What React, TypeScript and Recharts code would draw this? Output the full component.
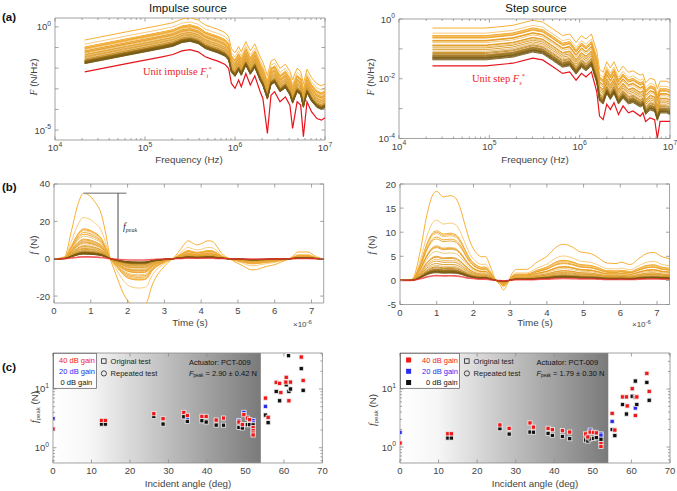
import React from "react";
import { LineChart, Line, XAxis, YAxis, ReferenceArea, ReferenceLine, ScatterChart, Scatter } from "recharts";

// ---------------- DATA ----------------
// (a) Impulse source: log10(frequency) grid, log10 spectrum of unit impulse (red) and the measured-curve shape
const impLogF = [4.33, 4.81, 5.19, 5.31, 5.41, 5.50, 5.59, 5.67, 5.74, 5.81, 5.89, 5.93, 5.96, 6.00, 6.04, 6.07, 6.12, 6.17, 6.22, 6.28, 6.31, 6.36, 6.40, 6.44, 6.50, 6.56, 6.61, 6.64, 6.69, 6.73, 6.76, 6.80, 6.85, 6.91, 6.96, 7.00];
const impRedLogA = [-2.18, -1.77, -1.45, -1.34, -1.16, -1.10, -1.21, -1.45, -1.56, -1.66, -1.82, -2.02, -2.74, -2.98, -2.58, -2.90, -2.26, -2.82, -2.37, -3.14, -3.47, -5.16, -3.31, -3.14, -3.63, -3.39, -3.79, -4.92, -3.63, -3.79, -5.32, -3.63, -4.11, -4.44, -4.52, -4.40];
const impLogA = [-2.18, -1.77, -1.45, -1.34, -1.16, -1.10, -1.21, -1.45, -1.56, -1.66, -1.82, -2.02, -2.60, -2.80, -2.50, -2.75, -2.26, -2.70, -2.37, -3.00, -3.25, -3.90, -3.20, -3.10, -3.55, -3.35, -3.70, -4.10, -3.55, -3.70, -4.30, -3.60, -4.00, -4.30, -4.40, -4.30];
// (a) Step source
const stepLogF = [4.37, 4.96, 5.26, 5.48, 5.59, 5.70, 5.81, 5.89, 5.96, 6.02, 6.07, 6.13, 6.19, 6.22, 6.26, 6.30, 6.34, 6.38, 6.43, 6.48, 6.54, 6.59, 6.67, 6.70, 6.73, 6.78, 6.83, 6.86, 6.89, 6.96, 7.00];
const stepRedLogA = [-1.57, -1.57, -1.48, -1.31, -1.37, -1.59, -1.82, -1.77, -2.05, -1.82, -1.94, -1.77, -2.45, -3.25, -3.37, -2.85, -3.03, -2.80, -3.20, -2.91, -3.14, -3.08, -3.25, -3.14, -3.43, -3.31, -3.37, -4.00, -3.43, -3.43, -3.43];
const stepLogA = [-1.57, -1.57, -1.48, -1.31, -1.37, -1.59, -1.82, -1.77, -2.05, -1.82, -1.94, -1.77, -2.35, -2.95, -3.05, -2.70, -2.90, -2.70, -3.05, -2.85, -3.05, -3.00, -3.15, -3.10, -3.40, -3.25, -3.30, -3.60, -3.35, -3.35, -3.40];

// peak forces (N) of the measured curves
const impulseGains = [35, 22, 16, 15.5, 15, 14, 13, 12, 10.5, 10, 9.5, 9, 8.5, 8, 7, 6.5, 6, 5.5, 5, 4.6, 4.2, 4, 3.8, 3.6, 3.5, 3.4, 3.3, 3.2, 3.1, 3.0, 2.9, 2.8, 2.7, 2.6, 2.5];
const stepGains = [18.5, 12.5, 10.3, 10, 9.7, 9, 8.6, 7.2, 7, 6.8, 6, 5, 4.8, 4.4, 4, 3.5, 3.1, 2.8, 2.6, 2.4, 2.3, 2.2, 2.1, 2.0, 1.9, 1.85, 1.8, 1.7, 1.6];

// (b) time histories (unit peak), time in microseconds
const impTime = [0, 0.11, 0.29, 0.47, 0.65, 0.8, 0.95, 1.1, 1.29, 1.42, 1.53, 1.62, 1.75, 1.92, 2.1, 2.3, 2.46, 2.55, 2.64, 2.8, 2.96, 3.1, 3.23, 3.4, 3.55, 3.64, 3.76, 3.87, 4.0, 4.18, 4.3, 4.43, 4.55, 4.77, 4.95, 5.15, 5.36, 5.5, 5.63, 5.8, 6.0, 6.15, 6.27, 6.4, 6.5, 6.63, 6.9, 7.05, 7.17, 7.33];
const impShape = [0, 0.003, 0.034, 0.417, 0.829, 1.0, 0.971, 0.877, 0.674, 0.343, 0, -0.143, -0.343, -0.571, -0.686, -0.714, -0.7, -0.629, -0.449, -0.257, -0.143, -0.057, 0, 0.114, 0.229, 0.274, 0.243, 0.214, 0.229, 0.274, 0.266, 0.186, 0.086, 0, -0.057, -0.114, -0.169, -0.166, -0.143, -0.114, -0.091, -0.057, -0.029, 0, 0.043, 0.103, 0.103, 0.057, 0.02, 0];
const stepTime = [0, 0.27, 0.36, 0.55, 0.73, 0.91, 1.0, 1.18, 1.36, 1.5, 1.64, 1.77, 1.91, 2.09, 2.23, 2.32, 2.45, 2.59, 2.73, 2.82, 2.91, 3.05, 3.18, 3.45, 3.73, 4.0, 4.27, 4.45, 4.68, 4.91, 5.18, 5.36, 5.64, 5.91, 6.0, 6.27, 6.5, 6.73, 6.91, 7.14, 7.35];
const stepShape = [0, 0, 0.027, 0.324, 0.730, 0.973, 1.0, 0.935, 0.951, 0.930, 0.811, 0.622, 0.432, 0.303, 0.265, 0.270, 0.168, 0.016, -0.054, -0.108, -0.054, 0.076, 0.124, 0.124, 0.205, 0.270, 0.378, 0.405, 0.378, 0.319, 0.303, 0.265, 0.195, 0.189, 0.205, 0.178, 0.243, 0.303, 0.314, 0.265, 0.243];

// (c) peak force vs incident angle
const impRed = [
  { a: 0, p: 2.08 }, { a: 12.6, p: 2.92 }, { a: 13.6, p: 2.92 }, { a: 26.2, p: 3.8 }, { a: 28.6, p: 3.12 },
  { a: 34.0, p: 4.0 }, { a: 34.9, p: 3.55 }, { a: 38.7, p: 3.42 }, { a: 39.8, p: 3.42 }, { a: 42.4, p: 2.96 },
  { a: 44.3, p: 3.2 }, { a: 48.3, p: 2.74 }, { a: 49.2, p: 2.47 }, { a: 49.6, p: 3.65 }, { a: 50.5, p: 3.2 },
  { a: 51.1, p: 3.0 }, { a: 52.0, p: 2.2 }, { a: 52.0, p: 1.95 }, { a: 52.0, p: 1.78 }, { a: 52.0, p: 1.65 },
  { a: 55.2, p: 7.0 }, { a: 55.9, p: 3.3 }, { a: 58.0, p: 13 }, { a: 58.9, p: 12.5 }, { a: 59.2, p: 8.7 },
  { a: 60.6, p: 15.8 }, { a: 60.5, p: 13.1 }, { a: 61.3, p: 6.3 }, { a: 61.7, p: 13.1 }, { a: 64.5, p: 35 }, { a: 65.0, p: 14 },
];
const impBlue = [
  { a: 0, p: 3.12 }, { a: 34.9, p: 3.3 }, { a: 48.3, p: 2.9 }, { a: 49.6, p: 4.0 },
  { a: 52.0, p: 2.9 }, { a: 52.0, p: 2.65 }, { a: 52.0, p: 2.45 }, { a: 55.2, p: 5.06 },
];
const impBlack = [
  { a: 12.6, p: 2.53 }, { a: 13.6, p: 2.53 }, { a: 26.2, p: 3.42 }, { a: 28.6, p: 2.53 }, { a: 34.0, p: 3.37 },
  { a: 34.9, p: 2.81 }, { a: 38.7, p: 2.88 }, { a: 39.8, p: 2.74 }, { a: 42.4, p: 2.43 }, { a: 44.3, p: 2.42 },
  { a: 48.3, p: 2.22 }, { a: 49.2, p: 2.17 }, { a: 50.5, p: 2.47 }, { a: 51.1, p: 2.47 }, { a: 52.0, p: 2.45 },
  { a: 55.2, p: 3.6 }, { a: 55.9, p: 2.67 }, { a: 58.0, p: 9.1 }, { a: 58.9, p: 6.3 }, { a: 60.6, p: 11.8 },
  { a: 61.2, p: 36.9 }, { a: 61.3, p: 9.1 }, { a: 61.7, p: 10 }, { a: 64.5, p: 22.2 }, { a: 65.0, p: 9.5 },
];
const stepRed = [
  { a: 0, p: 1.17 }, { a: 12.4, p: 1.69 }, { a: 13.3, p: 1.69 }, { a: 25.9, p: 2.4 }, { a: 28.3, p: 2.1 },
  { a: 33.7, p: 2.6 }, { a: 34.6, p: 2.2 }, { a: 38.4, p: 2.1 }, { a: 39.5, p: 1.99 }, { a: 42.1, p: 1.91 },
  { a: 44.0, p: 1.81 }, { a: 48.1, p: 1.68 }, { a: 48.7, p: 1.49 }, { a: 49.3, p: 1.81 }, { a: 50.2, p: 1.79 },
  { a: 50.9, p: 1.75 }, { a: 52.1, p: 1.15 }, { a: 52.1, p: 1.02 }, { a: 55.0, p: 3.8 }, { a: 55.7, p: 1.96 },
  { a: 57.7, p: 7.3 }, { a: 58.7, p: 7.3 }, { a: 58.9, p: 5.1 }, { a: 60.2, p: 10.1 }, { a: 61.0, p: 7.2 },
  { a: 61.0, p: 3.5 }, { a: 61.4, p: 7.3 }, { a: 64.0, p: 18.6 }, { a: 64.6, p: 9.1 },
];
const stepBlue = [
  { a: 0, p: 1.79 }, { a: 49.3, p: 1.95 }, { a: 52.1, p: 1.68 }, { a: 52.1, p: 1.6 }, { a: 55.0, p: 2.76 }, { a: 61.0, p: 4.7 },
];
const stepBlack = [
  { a: 12.4, p: 1.43 }, { a: 13.3, p: 1.43 }, { a: 25.9, p: 2.07 }, { a: 28.3, p: 1.67 }, { a: 33.7, p: 1.81 },
  { a: 34.6, p: 1.8 }, { a: 38.4, p: 1.72 }, { a: 39.5, p: 1.58 }, { a: 42.1, p: 1.52 }, { a: 44.0, p: 1.39 },
  { a: 48.1, p: 1.32 }, { a: 48.7, p: 1.27 }, { a: 49.3, p: 1.38 }, { a: 50.2, p: 1.41 }, { a: 50.9, p: 1.45 },
  { a: 52.1, p: 1.36 }, { a: 55.0, p: 2.0 }, { a: 55.7, p: 1.57 }, { a: 57.7, p: 5.4 }, { a: 58.7, p: 3.7 },
  { a: 60.2, p: 7.5 }, { a: 61.0, p: 13.7 }, { a: 61.4, p: 5.4 }, { a: 64.0, p: 13 }, { a: 64.6, p: 6.4 },
];

// tick values
const freqMajor = [1e4, 1e5, 1e6, 1e7];
const impSpecYTicks = [1e-5, 1e-4, 1e-3, 1e-2, 1e-1, 1];
const impSpecYLabels = [1e-5, 1];
const stepSpecYTicks = [1e-4, 1e-3, 1e-2, 1e-1, 1];
const stepSpecYLabels = [1e-4, 1e-2, 1];
const timeTicks = [0, 1, 2, 3, 4, 5, 6, 7];
const impForceTicks = [-20, 0, 20, 40];
const stepForceTicks = [-5, 0, 5, 10, 15, 20];
const angleTicks = [0, 10, 20, 30, 40, 50, 60, 70];
const peakMajor = [1, 10];

// ---------------- TABLES ----------------
const specTable = (lf: number[], la: number[], gains: number[]) =>
  lf.map((l, i) => {
    const row: any = { f: Math.pow(10, l) };
    gains.forEach((g, k) => { row["g" + k] = Math.pow(10, la[i]) * g; });
    return row;
  });
const redSpec = (lf: number[], la: number[]) => lf.map((l, i) => ({ f: Math.pow(10, l), v: Math.pow(10, la[i]) }));
const timeTable = (t: number[], s: number[], gains: number[]) =>
  t.map((tt, i) => {
    const row: any = { t: tt, red: s[i] };
    gains.forEach((g, k) => { row["g" + k] = s[i] * g; });
    return row;
  });

const impSpec = specTable(impLogF, impLogA, impulseGains);
const impSpecRed = redSpec(impLogF, impRedLogA);
const stepSpec = specTable(stepLogF, stepLogA, stepGains);
const stepSpecRed = redSpec(stepLogF, stepRedLogA);
const impHist = timeTable(impTime, impShape, impulseGains);
const stepHist = timeTable(stepTime, stepShape, stepGains);

const minorLog = (lo: number, hi: number) => {
  const out: number[] = [];
  for (let e = lo; e < hi; e++) for (let m = 1; m <= 9; m++) out.push(m * Math.pow(10, e));
  out.push(Math.pow(10, hi));
  return out;
};
const freqTicks = minorLog(4, 7);
const peakTicks = [0.6, 0.7, 0.8, 0.9, ...minorLog(0, 1), 20, 30, 40];

// ---------------- STYLE ----------------
const AX = "#8c8c8c";
const TXT = "#444";
const SANS = "'Liberation Sans', Arial, Helvetica, sans-serif";
const SERIF = "'Liberation Serif', 'Times New Roman', serif";
const PL = 48, PT = 12, PR = 16, PB = 20;

type Rect = { x0: number; y0: number; x1: number; y1: number };
const R: Record<string, Rect> = {
  aL: { x0: 55, y0: 18, x1: 325, y1: 140 },
  aR: { x0: 398.5, y0: 19, x1: 669.5, y1: 138.5 },
  bL: { x0: 54.3, y0: 184, x1: 324, y1: 303 },
  bR: { x0: 400, y0: 184, x1: 669.5, y1: 304.5 },
  cL: { x0: 53.3, y0: 353.3, x1: 322.7, y1: 463.3 },
  cR: { x0: 400.3, y0: 353.3, x1: 670.3, y1: 463.3 },
};
const dims = (r: Rect) => ({ width: r.x1 - r.x0 + PL + PR, height: r.y1 - r.y0 + PT + PB });

const mix = (a: number[], b: number[], t: number) => a.map((v, i) => Math.round(v + (b[i] - v) * t));
const rgb = (c: number[]) => `rgb(${c[0]},${c[1]},${c[2]})`;
function goldColor(k: number, n: number) {
  const t = n > 1 ? k / (n - 1) : 0;
  const a = [246, 166, 30], b = [216, 148, 28], c = [120, 92, 22];
  let col = t < 0.55 ? mix(a, b, t / 0.55) : mix(b, c, Math.min(1, (t - 0.55) / 0.35));
  if (k % 3 === 1 && t < 0.7) col = mix(col, [255, 255, 255], 0.35);
  return rgb(col);
}

const isDecade = (v: number) => Math.abs(Math.log10(v) - Math.round(Math.log10(v))) < 1e-6;
const pow10Label = (v: number) => {
  const e = Math.round(Math.log10(v));
  return [<tspan key="b">10</tspan>, <tspan key="e" dy={-4.5} fontSize={6.8}>{String(e)}</tspan>];
};

function xTick(ph: number, label: (v: number) => any, major: (v: number) => boolean) {
  return (p: any) => {
    const { x, y, payload } = p;
    const v = payload.value;
    const len = major(v) ? 3.5 : 2;
    const lab = label(v);
    return (
      <g>
        <line x1={x} x2={x} y1={y} y2={y - len} stroke={AX} strokeWidth={0.8} />
        <line x1={x} x2={x} y1={y - ph} y2={y - ph + len} stroke={AX} strokeWidth={0.8} />
        {lab != null && (
          <text x={x} y={y + 11} textAnchor="middle" fontSize={9.5} fill={TXT} fontFamily={SANS}>{lab}</text>
        )}
      </g>
    );
  };
}
function yTick(pw: number, label: (v: number) => any, major: (v: number) => boolean) {
  return (p: any) => {
    const { x, y, payload } = p;
    const v = payload.value;
    const len = major(v) ? 3.5 : 2;
    const lab = label(v);
    return (
      <g>
        <line x1={x} x2={x + len} y1={y} y2={y} stroke={AX} strokeWidth={0.8} />
        <line x1={x + pw} x2={x + pw - len} y1={y} y2={y} stroke={AX} strokeWidth={0.8} />
        {lab != null && (
          <text x={x - 4} y={y + 3.5} textAnchor="end" fontSize={9.5} fill={TXT} fontFamily={SANS}>{lab}</text>
        )}
      </g>
    );
  };
}

const Box = ({ r, children }: { r: Rect; children: any }) => (
  <div style={{ position: "absolute", left: r.x0 - PL, top: r.y0 - PT }}>{children}</div>
);

function SpectrumChart({ r, table, red, gains, yDomain, yTicks, yLabels }: any) {
  const { width, height } = dims(r);
  const pw = r.x1 - r.x0, ph = r.y1 - r.y0;
  return (
    <Box r={r}>
      <LineChart width={width} height={height} data={table} margin={{ top: PT, right: PR, bottom: 0, left: 0 }}>
        <XAxis type="number" dataKey="f" scale="log" domain={[1e4, 1e7]} allowDataOverflow ticks={freqTicks} interval={0}
          tickSize={0} tickMargin={0} axisLine={false} tickLine={false} height={PB}
          tick={xTick(ph, (v) => (freqMajor.some((m) => Math.abs(m - v) / m < 1e-6) ? pow10Label(v) : null), isDecade)} />
        <YAxis type="number" scale="log" domain={yDomain} allowDataOverflow ticks={yTicks} interval={0}
          tickSize={0} tickMargin={0} axisLine={false} tickLine={false} width={PL}
          tick={yTick(pw, (v) => (yLabels.some((m: number) => Math.abs(m - v) / m < 1e-6) ? pow10Label(v) : null), () => true)} />
        {gains.map((g: number, k: number) => (
          <Line key={k} dataKey={"g" + k} stroke={goldColor(k, gains.length)} strokeWidth={0.9} dot={false}
            isAnimationActive={false} type="linear" />
        ))}
        <Line data={red} dataKey="v" stroke="#e8141c" strokeWidth={1.2} dot={false} isAnimationActive={false} type="linear" />
        <ReferenceArea x1={1e4} x2={1e7} y1={yDomain[0]} y2={yDomain[1]} fill="none" stroke={AX} strokeWidth={0.8} ifOverflow="visible" />
      </LineChart>
    </Box>
  );
}

function HistoryChart({ r, table, gains, xMax, yDomain, yTicks, children }: any) {
  const { width, height } = dims(r);
  const pw = r.x1 - r.x0, ph = r.y1 - r.y0;
  return (
    <Box r={r}>
      <LineChart width={width} height={height} data={table} margin={{ top: PT, right: PR, bottom: 0, left: 0 }}>
        <XAxis type="number" dataKey="t" domain={[0, xMax]} allowDataOverflow ticks={timeTicks} interval={0}
          tickSize={0} tickMargin={0} axisLine={false} tickLine={false} height={PB}
          tick={xTick(ph, (v) => String(v), () => true)} />
        <YAxis type="number" domain={yDomain} allowDataOverflow ticks={yTicks} interval={0}
          tickSize={0} tickMargin={0} axisLine={false} tickLine={false} width={PL}
          tick={yTick(pw, (v) => String(v), () => true)} />
        {gains.map((g: number, k: number) => (
          <Line key={k} dataKey={"g" + k} stroke={goldColor(k, gains.length)} strokeWidth={0.9} dot={false}
            isAnimationActive={false} type="monotone" />
        ))}
        <Line dataKey="red" stroke="#ee2a2a" strokeOpacity={0.75} strokeWidth={1.6} dot={false} isAnimationActive={false} type="monotone" />
        {children}
        <ReferenceArea x1={0} x2={xMax} y1={yDomain[0]} y2={yDomain[1]} fill="none" stroke={AX} strokeWidth={0.8} ifOverflow="visible" />
      </LineChart>
    </Box>
  );
}

const square = (color: string) => (p: any) => (
  <rect x={p.cx - 2.1} y={p.cy - 2.1} width={4.2} height={4.2} fill={color} stroke="#eeeeee" strokeWidth={0.8} />
);

function PeakChart({ r, red, blue, black, yDomain }: any) {
  const { width, height } = dims(r);
  const pw = r.x1 - r.x0, ph = r.y1 - r.y0;
  return (
    <Box r={r}>
      <ScatterChart width={width} height={height} margin={{ top: PT, right: PR, bottom: 0, left: 0 }}>
        <XAxis type="number" dataKey="a" domain={[0, 70]} allowDataOverflow ticks={angleTicks} interval={0}
          tickSize={0} tickMargin={0} axisLine={false} tickLine={false} height={PB}
          tick={xTick(ph, (v) => String(v), () => true)} />
        <YAxis type="number" dataKey="p" scale="log" domain={yDomain} allowDataOverflow ticks={peakTicks} interval={0}
          tickSize={0} tickMargin={0} axisLine={false} tickLine={false} width={PL}
          tick={yTick(pw, (v) => (peakMajor.some((m) => Math.abs(m - v) / m < 1e-6) ? pow10Label(v) : null), isDecade)} />
        <ReferenceArea x1={0} x2={54} y1={yDomain[0]} y2={yDomain[1]} fill="url(#shadeC)" fillOpacity={1} stroke="none" ifOverflow="visible" />
        <Scatter data={blue} fill="#2a2af0" shape={square("#2a2af0")} isAnimationActive={false} />
        <Scatter data={black} fill="#111" shape={square("#111111")} isAnimationActive={false} />
        <Scatter data={red} fill="#f01818" shape={square("#f01818")} isAnimationActive={false} />
        <ReferenceArea x1={0} x2={70} y1={yDomain[0]} y2={yDomain[1]} fill="none" stroke={AX} strokeWidth={0.8} ifOverflow="visible" />
      </ScatterChart>
    </Box>
  );
}

const RotLabel = ({ cx, cy, children }: any) => (
  <text transform={`translate(${cx + 3.5},${cy}) rotate(-90)`} textAnchor="middle" fontSize={9.8} fill={TXT} fontFamily={SANS}>{children}</text>
);

function CLegend({ x0, right, fpeak, markers }: { x0: number; right: number; fpeak: string; markers: boolean }) {
  const rows = [
    { t: "40 dB gain", c: "#f01818", y: 360 },
    { t: "20 dB gain", c: "#2a2af0", y: 371.3 },
    { t: "0 dB gain", c: "#111", y: 382.5 },
  ];
  const w = markers ? 59 : 43;
  const ox = x0 + w + 5;
  return (
    <g fontFamily={SANS} fontSize={7.5}>
      <rect x={x0} y={353.3} width={w} height={35} fill="#fff" stroke="#555" strokeWidth={0.7} />
      {rows.map((r) => (
        <g key={r.t}>
          {markers && <rect x={x0 + 5.5} y={r.y - 2.5} width={5} height={5} fill={r.c} />}
          <text x={markers ? x0 + (r.t === "0 dB gain" ? 25.5 : 21.5) : x0 + (r.t === "0 dB gain" ? 7 : 5.5)} y={r.y + 2.7} fill={r.c}>{r.t}</text>
        </g>
      ))}
      <rect x={ox} y={358.8} width={4.5} height={4.5} fill="none" stroke="#222" strokeWidth={0.8} />
      <text x={ox + 9} y={363.6} fill="#222">Original test</text>
      <circle cx={ox + 2.3} cy={373.4} r={2.6} fill="none" stroke="#222" strokeWidth={0.8} />
      <text x={ox + 9} y={376} fill="#222">Repeated test</text>
      <text x={right} y={365.2} fill="#111">Actuator: PCT-009</text>
      <text x={right} y={375.6} fill="#111">
        <tspan fontStyle="italic">F</tspan>
        <tspan fontSize={4.5} dy={1.8}>peak</tspan>
        <tspan dy={-1.8}>{" = " + fpeak}</tspan>
      </text>
    </g>
  );
}

export default function App() {
  return (
    <div style={{ position: "absolute", left: 0, top: 0, width: 677, height: 491, background: "#fff", overflow: "hidden" }}>
      <svg width={0} height={0} style={{ position: "absolute" }}>
        <defs>
          <linearGradient id="shadeC" x1="0" y1="0" x2="1" y2="0">
            <stop offset="0" stopColor="#ffffff" />
            <stop offset="0.18" stopColor="#f6f6f6" />
            <stop offset="1" stopColor="#7a7a7a" />
          </linearGradient>
        </defs>
      </svg>

      <SpectrumChart r={R.aL} table={impSpec} red={impSpecRed} gains={impulseGains} yDomain={[3.3e-6, 2.7]}
        yTicks={impSpecYTicks} yLabels={impSpecYLabels} />
      <SpectrumChart r={R.aR} table={stepSpec} red={stepSpecRed} gains={stepGains} yDomain={[1e-4, 1]}
        yTicks={stepSpecYTicks} yLabels={stepSpecYLabels} />

      <HistoryChart r={R.bL} table={impHist} gains={impulseGains} xMax={7.33} yDomain={[-23.7, 40]} yTicks={impForceTicks}>
        <ReferenceLine segment={[{ x: 0.8, y: 35 }, { x: 1.97, y: 35 }]} stroke="#9a9a9a" strokeWidth={1.5} />
        <ReferenceLine segment={[{ x: 1.74, y: 35 }, { x: 1.74, y: 0 }]} stroke="#333" strokeWidth={0.9} />
      </HistoryChart>
      <HistoryChart r={R.bR} table={stepHist} gains={stepGains} xMax={7.34} yDomain={[-5, 20]} yTicks={stepForceTicks} />

      <PeakChart r={R.cL} red={impRed} blue={impBlue} black={impBlack} yDomain={[0.55, 41]} />
      <PeakChart r={R.cR} red={stepRed} blue={stepBlue} black={stepBlack} yDomain={[0.53, 41.7]} />

      <svg width={677} height={491} style={{ position: "absolute", left: 0, top: 0, pointerEvents: "none" }} fontFamily={SANS}>
        <text x={188} y={12} fontSize={11.5} textAnchor="middle" fill="#111">Impulse source</text>
        <text x={536} y={12} fontSize={11.5} textAnchor="middle" fill="#111">Step source</text>
        <text x={2} y={21} fontSize={11.5} fontWeight="bold" fill="#111">(a)</text>
        <text x={2} y={191} fontSize={11.5} fontWeight="bold" fill="#111">(b)</text>
        <text x={2} y={371} fontSize={11.5} fontWeight="bold" fill="#111">(c)</text>

        <text x={189} y={163} fontSize={9.8} textAnchor="middle" fill={TXT}>Frequency (Hz)</text>
        <text x={535} y={163} fontSize={9.8} textAnchor="middle" fill={TXT}>Frequency (Hz)</text>
        <text x={190} y={326} fontSize={9.8} textAnchor="middle" fill={TXT}>Time (s)</text>
        <text x={535} y={326} fontSize={9.8} textAnchor="middle" fill={TXT}>Time (s)</text>
        <text x={293} y={327} fontSize={8} fill={TXT}>×10<tspan dy={-3.5} fontSize={6}>-6</tspan></text>
        <text x={632} y={327} fontSize={8} fill={TXT}>×10<tspan dy={-3.5} fontSize={6}>-6</tspan></text>
        <text x={188} y={487} fontSize={9.8} textAnchor="middle" fill={TXT}>Incident angle (deg)</text>
        <text x={535} y={487} fontSize={9.8} textAnchor="middle" fill={TXT}>Incident angle (deg)</text>

        <RotLabel cx={33} cy={77}><tspan fontFamily={SERIF} fontStyle="italic">F</tspan> (N/Hz)</RotLabel>
        <RotLabel cx={370} cy={77}><tspan fontFamily={SERIF} fontStyle="italic">F</tspan> (N/Hz)</RotLabel>
        <RotLabel cx={33} cy={245}><tspan fontFamily={SERIF} fontStyle="italic">f</tspan> (N)</RotLabel>
        <RotLabel cx={371} cy={245}><tspan fontFamily={SERIF} fontStyle="italic">f</tspan> (N)</RotLabel>
        <RotLabel cx={34} cy={407}><tspan fontFamily={SERIF} fontStyle="italic">f</tspan><tspan fontSize={6} dy={2}>peak</tspan><tspan dy={-2}> (N)</tspan></RotLabel>
        <RotLabel cx={372} cy={410}><tspan fontFamily={SERIF} fontStyle="italic">f</tspan><tspan fontSize={6} dy={2}>peak</tspan><tspan dy={-2}> (N)</tspan></RotLabel>

        <text x={143} y={75} fontSize={10.5} fill="#ee1c25" fontFamily={SERIF}>
          Unit impulse <tspan fontStyle="italic">F</tspan><tspan fontSize={6.5} dy={2.5} fontStyle="italic">i</tspan><tspan fontSize={6.5} dy={-7}>*</tspan>
        </text>
        <text x={472} y={82} fontSize={10.5} fill="#ee1c25" fontFamily={SERIF}>
          Unit step <tspan fontStyle="italic">F</tspan><tspan fontSize={6.5} dy={2.5} fontStyle="italic">s</tspan><tspan fontSize={6.5} dy={-7}>*</tspan>
        </text>

        <text x={123} y={230} fontSize={10} fill="#333" fontFamily={SERIF} fontStyle="italic">
          f<tspan fontSize={6} dy={2}>peak</tspan>
        </text>

        <CLegend x0={53.6} right={189} fpeak="2.90 ± 0.42 N" markers={false} />
        <CLegend x0={400.6} right={536.5} fpeak="1.79 ± 0.30 N" markers={true} />
      </svg>
    </div>
  );
}
